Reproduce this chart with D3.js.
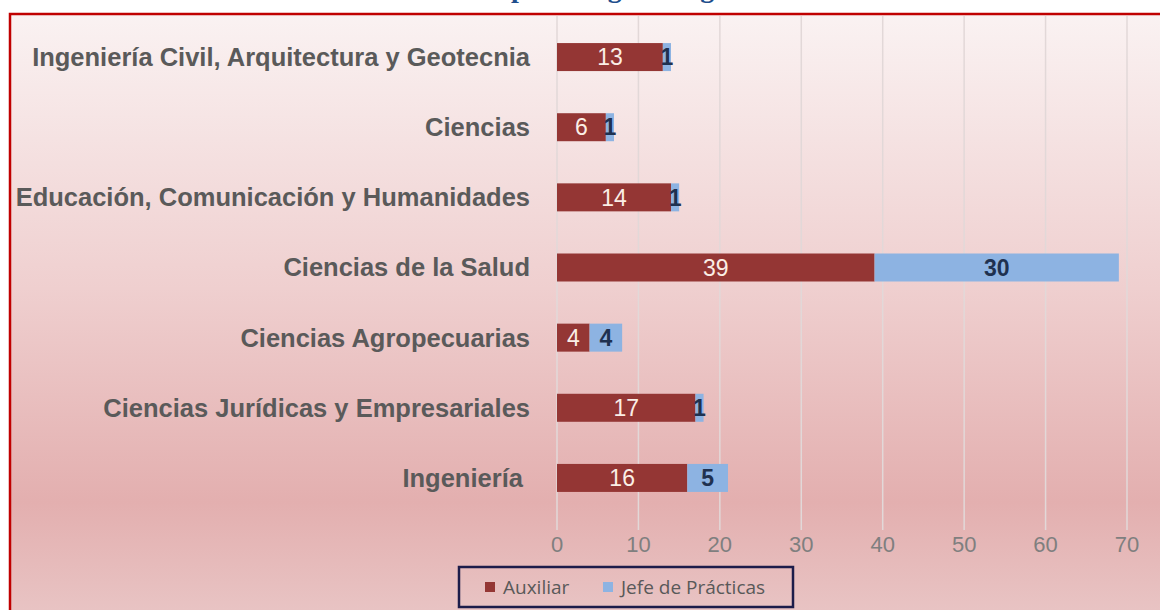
<!DOCTYPE html>
<html>
<head>
<meta charset="utf-8">
<script src="https://cdn.jsdelivr.net/npm/d3@7"></script>
<style>
  body { margin: 0; background: #fff; }
  svg { display: block; }
</style>
</head>
<body>
<div id="chart"></div>
<script>
  // data (top to bottom)
  const categories = [
    "Ingeniería Civil, Arquitectura y Geotecnia",
    "Ciencias",
    "Educación, Comunicación y Humanidades",
    "Ciencias de la Salud",
    "Ciencias Agropecuarias",
    "Ciencias Jurídicas y Empresariales",
    "Ingeniería "
  ];
  const auxiliar = [13, 6, 14, 39, 4, 17, 16];
  const jefe = [1, 1, 1, 30, 4, 1, 5];
  const seriesNames = ["Auxiliar", "Jefe de Prácticas"];
  const xTicks = [0, 10, 20, 30, 40, 50, 60, 70];
  const titleText = "Docentes por categoría según Facultad";

  const colors = {"Auxiliar": "#943634", "Jefe de Prácticas": "#8db3e2"};

  const width = 1160, height = 610;
  const svg = d3.select("#chart").append("svg")
    .attr("width", width)
    .attr("height", height);

  // background gradient
  const defs = svg.append("defs");
  const grad = defs.append("linearGradient")
    .attr("id", "bg").attr("x1", 0).attr("y1", 0).attr("x2", 0).attr("y2", 1);
  grad.append("stop").attr("offset", "0%").attr("stop-color", "#faf2f2");
  grad.append("stop").attr("offset", "45%").attr("stop-color", "#efcfcf");
  grad.append("stop").attr("offset", "80%").attr("stop-color", "#e3afaf");
  grad.append("stop").attr("offset", "100%").attr("stop-color", "#e9c6c6");

  svg.append("rect")
    .attr("x", 10).attr("y", 14)
    .attr("width", width).attr("height", height)
    .attr("fill", "url(#bg)")
    .attr("stroke", "#c00000")
    .attr("stroke-width", 2.5);

  // title, mostly above the top edge (only the descenders show)
  const title = svg.append("text")
    .attr("x", 0)
    .attr("y", -3)
    .style("font-family", "'Liberation Serif', serif")
    .style("font-weight", "bold")
    .style("font-size", "28px")
    .style("fill", "#1f4e8c")
    .text(titleText);
  // put the "p" of "por" where it sits in the picture
  const pIdx = titleText.indexOf("p");
  const pPos = title.node().getStartPositionOfChar(pIdx).x;
  title.attr("x", 511 - pPos);

  const x = d3.scaleLinear().domain([0, 70]).range([557, 1127]);
  const y = d3.scaleBand().domain(categories).range([22, 513]).paddingInner(0.6).paddingOuter(0.3);

  // grid lines
  svg.append("g")
    .selectAll("line")
    .data(xTicks)
    .join("line")
    .attr("x1", d => x(d)).attr("x2", d => x(d))
    .attr("y1", 16).attr("y2", 530)
    .attr("stroke", "#e2d8d8")
    .attr("stroke-width", 1.5);

  // x tick labels
  svg.append("g")
    .selectAll("text")
    .data(xTicks)
    .join("text")
    .attr("x", d => x(d))
    .attr("y", 552)
    .attr("text-anchor", "middle")
    .style("font-family", "'Liberation Sans', Arial, sans-serif")
    .style("font-size", "22px")
    .style("fill", "#7f7f7f")
    .text(d => d);

  // category labels
  svg.append("g")
    .selectAll("text")
    .data(categories)
    .join("text")
    .attr("x", 530)
    .attr("y", d => y(d) + y.bandwidth() / 2)
    .attr("dy", "0.35em")
    .attr("text-anchor", "end")
    .style("font-family", "'Liberation Sans', Arial, sans-serif")
    .style("font-weight", "bold")
    .style("font-size", "25.5px")
    .style("fill", "#5a5a5a")
    .style("white-space", "pre")
    .attr("xml:space", "preserve")
    .text(d => d);

  // stacked bars
  const rows = categories.map((c, i) => ({cat: c, a: auxiliar[i], j: jefe[i]}));
  const barH = 28;

  const rowG = svg.append("g").selectAll("g")
    .data(rows)
    .join("g")
    .attr("transform", d => `translate(0,${y(d.cat) + y.bandwidth() / 2 - barH / 2})`);

  rowG.append("rect")
    .attr("x", x(0))
    .attr("width", d => x(d.a) - x(0))
    .attr("height", barH)
    .attr("fill", colors["Auxiliar"]);

  rowG.append("rect")
    .attr("x", d => x(d.a))
    .attr("width", d => x(d.a + d.j) - x(d.a))
    .attr("height", barH)
    .attr("fill", colors["Jefe de Prácticas"]);

  rowG.append("text")
    .attr("x", d => (x(0) + x(d.a)) / 2)
    .attr("y", barH / 2)
    .attr("dy", "0.36em")
    .attr("text-anchor", "middle")
    .style("font-family", "'Liberation Sans', Arial, sans-serif")
    .style("font-size", "23px")
    .style("fill", "#fbeee6")
    .text(d => d.a);

  rowG.append("text")
    .attr("x", d => (x(d.a) + x(d.a + d.j)) / 2)
    .attr("y", barH / 2)
    .attr("dy", "0.36em")
    .attr("text-anchor", "middle")
    .style("font-family", "'Liberation Sans', Arial, sans-serif")
    .style("font-weight", "bold")
    .style("font-size", "23px")
    .style("fill", "#1f3150")
    .text(d => d.j);

  // legend
  const lg = svg.append("g").attr("transform", "translate(459,567)");
  lg.append("rect")
    .attr("width", 334).attr("height", 40)
    .attr("fill", "none")
    .attr("stroke", "#1c1c4a")
    .attr("stroke-width", 2.5);

  const legendX = [26, 144];
  const li = lg.selectAll("g.item")
    .data(seriesNames)
    .join("g")
    .attr("class", "item")
    .attr("transform", (d, i) => `translate(${legendX[i]},20)`);
  li.append("rect")
    .attr("x", 0).attr("y", -5)
    .attr("width", 10).attr("height", 10)
    .attr("fill", d => colors[d]);
  li.append("text")
    .attr("x", 18)
    .attr("dy", "0.35em")
    .style("font-family", "'Open Sans', sans-serif")
    .style("font-size", "19px")
    .style("fill", "#595959")
    .text(d => d);
</script>
</body>
</html>
